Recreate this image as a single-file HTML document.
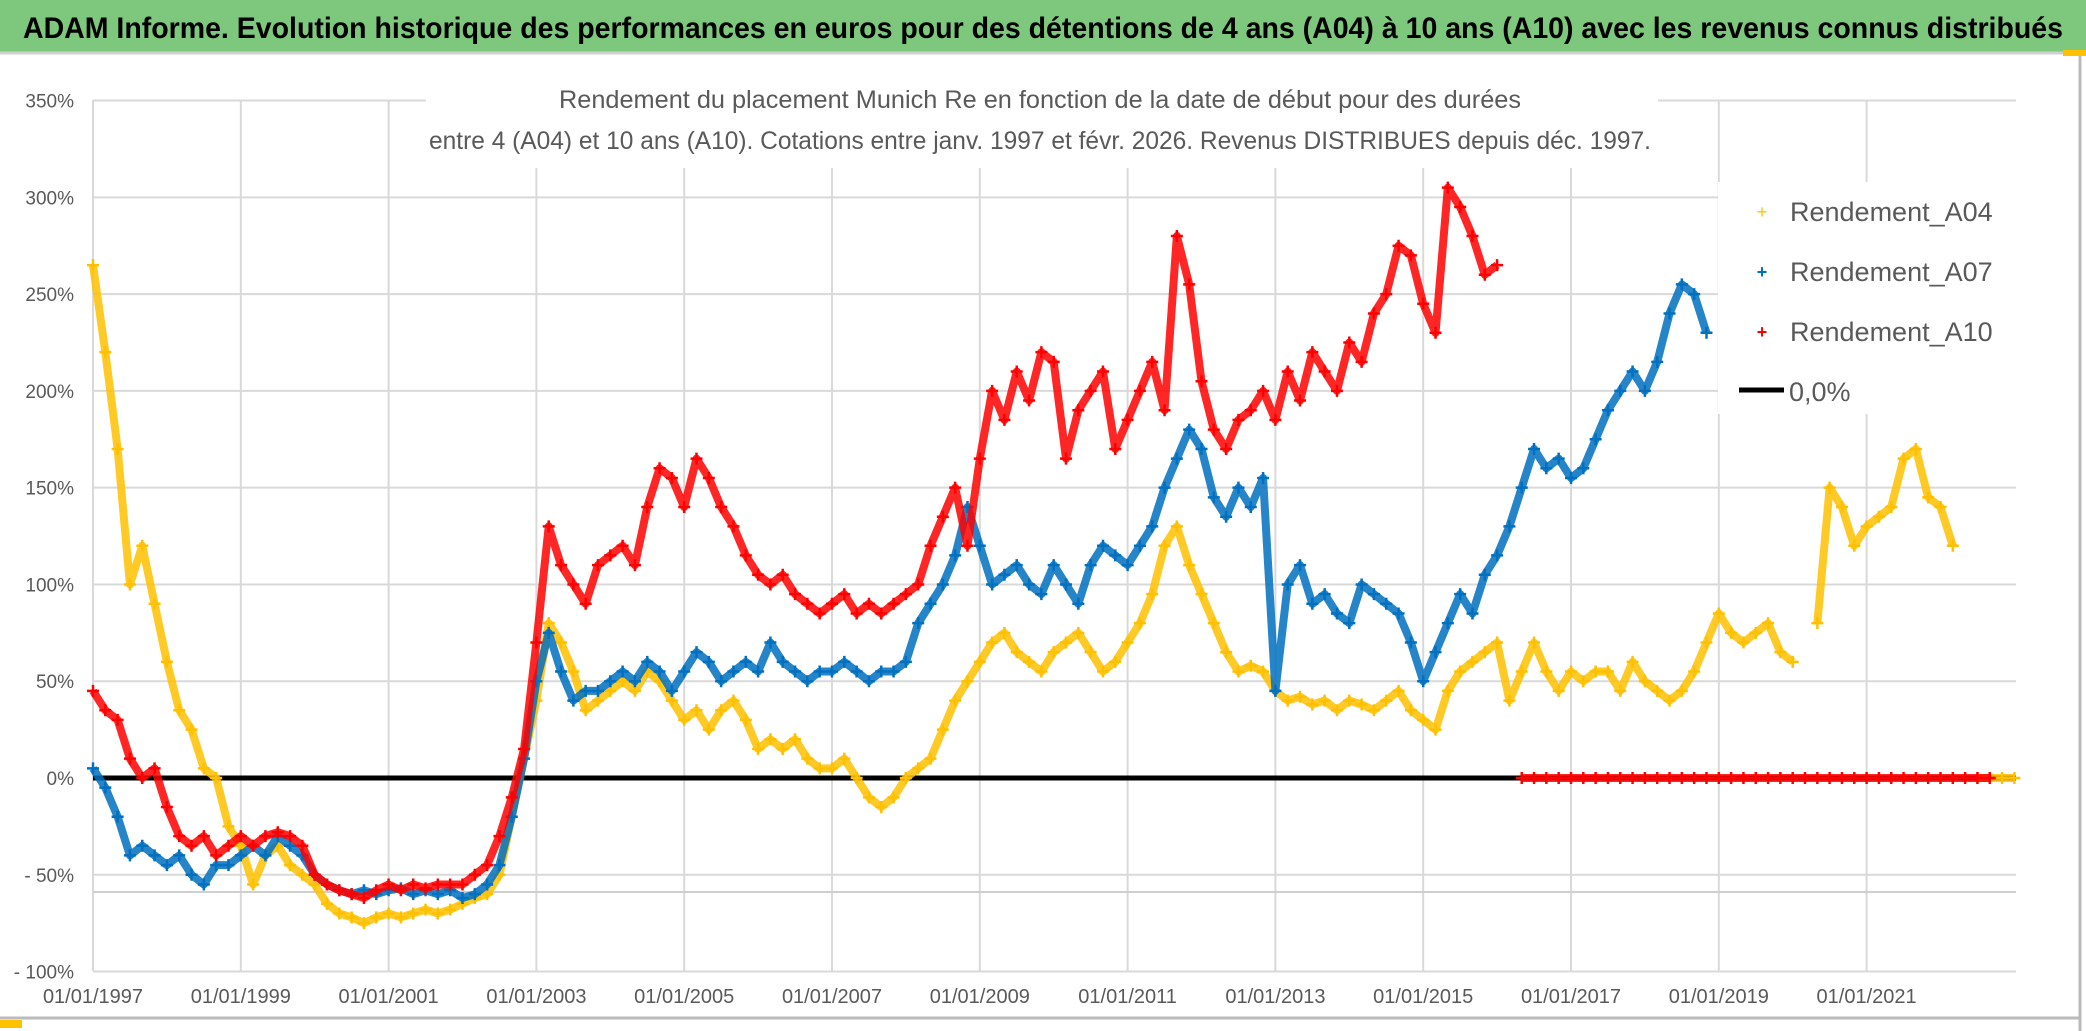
<!DOCTYPE html>
<html><head><meta charset="utf-8"><style>
body{margin:0;background:#fff;width:2086px;height:1031px;overflow:hidden;font-family:"Liberation Sans",sans-serif;}
svg{display:block}
</style></head><body>
<svg id="chart" width="2086" height="1031" viewBox="0 0 2086 1031" xmlns="http://www.w3.org/2000/svg">
<rect x="0" y="0" width="2086" height="1031" fill="#fff"/>
<rect x="0" y="0" width="2086" height="52" fill="#7dc87c"/>
<line x1="0" y1="53" x2="2086" y2="53" stroke="#d0d0d0" stroke-width="3"/>
<text x="1043" y="38" text-anchor="middle" font-size="30" font-weight="bold" fill="#000" textLength="2040" lengthAdjust="spacingAndGlyphs">ADAM Informe. Evolution historique des performances en euros pour des détentions de 4 ans (A04) à 10 ans (A10) avec les revenus connus distribués</text>
<line x1="2080" y1="54" x2="2080" y2="1031" stroke="#bbb" stroke-width="3"/>
<rect x="2063" y="50" width="23" height="6" fill="#ffc000"/>
<line x1="0" y1="1018" x2="2080" y2="1018" stroke="#bbb" stroke-width="3"/>
<rect x="0" y="1020" width="22" height="8" fill="#ffc000"/>
<g id="grid"></g>
<g id="ylabels"></g>
<g id="xlabels"></g>
<line x1="93" y1="892" x2="2016" y2="892" stroke="#cfcfcf" stroke-width="2"/>
<g id="series"></g>
<rect x="426" y="80" width="1232" height="88" fill="#fff"/>
<text x="1040" y="108" text-anchor="middle" font-size="25" fill="#595959" textLength="962" lengthAdjust="spacingAndGlyphs">Rendement du placement Munich Re en fonction de la date de début pour des durées</text>
<text x="1040" y="149" text-anchor="middle" font-size="25" fill="#595959" textLength="1222" lengthAdjust="spacingAndGlyphs">entre 4 (A04) et 10 ans (A10). Cotations entre janv. 1997 et févr. 2026. Revenus DISTRIBUES depuis déc. 1997.</text>
<g>
<rect x="1718" y="182" width="298" height="232" fill="#fff"/>
<g><text x="1762" y="218" text-anchor="middle" font-size="18" fill="#ffc000">+</text><text x="1790" y="221" font-size="27" fill="#595959">Rendement_A04</text></g>
<g><text x="1762" y="278" text-anchor="middle" font-size="18" fill="#0070c0" font-weight="bold">+</text><text x="1790" y="281" font-size="27" fill="#595959">Rendement_A07</text></g>
<g><text x="1762" y="338" text-anchor="middle" font-size="18" fill="#ff0000" font-weight="bold">+</text><text x="1790" y="341" font-size="27" fill="#595959">Rendement_A10</text></g>
<g><line x1="1739" y1="390" x2="1784" y2="390" stroke="#000" stroke-width="5"/><text x="1789" y="401" font-size="27" fill="#595959">0,0%</text></g>
</g>
</svg>
<script>
const yTicks=[-100,-50,0,50,100,150,200,250,300,350];
const yTickLabels=["- 100%","- 50%","0%","50%","100%","150%","200%","250%","300%","350%"];
const xTicks=[1997,1999,2001,2003,2005,2007,2009,2011,2013,2015,2017,2019,2021];
const xTickLabels=["01/01/1997","01/01/1999","01/01/2001","01/01/2003","01/01/2005","01/01/2007","01/01/2009","01/01/2011","01/01/2013","01/01/2015","01/01/2017","01/01/2019","01/01/2021"];
const startYear=1997;
const stepYears=1/6;
const a04=[265,220,170,100,120,90,60,35,25,5,0,-25,-35,-55,-40,-35,-45,-50,-55,-65,-70,-72,-75,-72,-70,-72,-70,-68,-70,-68,-65,-62,-60,-50,-20,10,40,80,70,55,35,40,45,50,45,55,50,40,30,35,25,35,40,30,15,20,15,20,10,5,5,10,0,-10,-15,-10,0,5,10,25,40,50,60,70,75,65,60,55,65,70,75,65,55,60,70,80,95,120,130,110,95,80,65,55,58,55,45,40,42,38,40,35,40,38,35,40,45,35,30,25,45,55,60,65,70,40,55,70,55,45,55,50,55,55,45,60,50,45,40,45,55,70,85,75,70,75,80,65,60,null,80,150,140,120,130,135,140,165,170,145,140,120,null,0,0,0,0];
const a07=[5,-5,-20,-40,-35,-40,-45,-40,-50,-55,-45,-45,-40,-35,-40,-30,-35,-40,-50,-55,-58,-60,-58,-60,-58,-57,-60,-58,-60,-58,-62,-60,-55,-45,-20,10,50,75,55,40,45,45,50,55,50,60,55,45,55,65,60,50,55,60,55,70,60,55,50,55,55,60,55,50,55,55,60,80,90,100,115,140,120,100,105,110,100,95,110,100,90,110,120,115,110,120,130,150,165,180,170,145,135,150,140,155,45,100,110,90,95,85,80,100,95,90,85,70,50,65,80,95,85,105,115,130,150,170,160,165,155,160,175,190,200,210,200,215,240,255,250,230];
const a10=[45,35,30,10,0,5,-15,-30,-35,-30,-40,-35,-30,-35,-30,-28,-30,-35,-50,-55,-58,-60,-62,-58,-55,-58,-55,-57,-55,-55,-55,-50,-45,-30,-10,15,70,130,110,100,90,110,115,120,110,140,160,155,140,165,155,140,130,115,105,100,105,95,90,85,90,95,85,90,85,90,95,100,120,135,150,120,165,200,185,210,195,220,215,165,190,200,210,170,185,200,215,190,280,255,205,180,170,185,190,200,185,210,195,220,210,200,225,215,240,250,275,270,245,230,305,295,280,260,265,null,0,0,0,0,0,0,0,0,0,0,0,0,0,0,0,0,0,0,0,0,0,0,0,0,0,0,0,0,0,0,0,0,0,0,0,0,0,0,0];

const NS="http://www.w3.org/2000/svg";
const X0=93,PXY=73.9,Y0=778,PXP=1.9356,PL=93,PR=2016,PT=100,PB=971;
function xs(t){return X0+(t-startYear)*PXY;}
function ys(v){return Y0-v*PXP;}
const grid=document.getElementById('grid');
yTicks.forEach((v,i)=>{
  const l=document.createElementNS(NS,'line');
  
  
  l.setAttribute('x1',PL);l.setAttribute('x2',PR);l.setAttribute('y1',ys(v));l.setAttribute('y2',ys(v));
  l.setAttribute('stroke','#d9d9d9');l.setAttribute('stroke-width','2');
  grid.appendChild(l);
  const t=document.createElementNS(NS,'text');
  
  
  t.setAttribute('x',74);t.setAttribute('y',ys(v)+7);t.setAttribute('text-anchor','end');
  t.setAttribute('font-size','19');t.setAttribute('fill','#595959');
  t.textContent=yTickLabels[i];
  document.getElementById('ylabels').appendChild(t);
});
xTicks.forEach((yr,i)=>{
  const l=document.createElementNS(NS,'line');
  
  
  l.setAttribute('x1',xs(yr));l.setAttribute('x2',xs(yr));l.setAttribute('y1',PT);l.setAttribute('y2',PB);
  l.setAttribute('stroke','#d9d9d9');l.setAttribute('stroke-width','2');
  grid.appendChild(l);
  const t=document.createElementNS(NS,'text');
  
  
  t.setAttribute('x',xs(yr));t.setAttribute('y',1003);t.setAttribute('text-anchor','middle');
  t.setAttribute('font-size','20');t.setAttribute('fill','#595959');
  t.textContent=xTickLabels[i];
  document.getElementById('xlabels').appendChild(t);
});
const series=document.getElementById('series');
const zl=document.createElementNS(NS,'line');


zl.setAttribute('x1',PL);zl.setAttribute('x2',PR);zl.setAttribute('y1',ys(0));zl.setAttribute('y2',ys(0));
zl.setAttribute('stroke','#000');zl.setAttribute('stroke-width','5');
series.appendChild(zl);
function draw(vals,color,name){
  const g=document.createElementNS(NS,'g');
  
  
  let segs=[],cur=[];
  vals.forEach((v,i)=>{
    if(v===null){if(cur.length)segs.push(cur);cur=[];return;}
    cur.push([xs(startYear+i*stepYears),ys(v)]);
  });
  if(cur.length)segs.push(cur);
  segs.forEach(s=>{
    const p=document.createElementNS(NS,'polyline');
    
    
    p.setAttribute('points',s.map(q=>q.join(',')).join(' '));
    p.setAttribute('fill','none');p.setAttribute('stroke',color);p.setAttribute('stroke-width','8');
    p.setAttribute('stroke-linejoin','round');p.setAttribute('opacity','0.85');
    g.appendChild(p);
  });
  vals.forEach((v,i)=>{
    if(v===null)return;
    const x=xs(startYear+i*stepYears),y=ys(v);
    const m=document.createElementNS(NS,'path');
    
    
    m.setAttribute('d',`M${x-6},${y}H${x+6}M${x},${y-6}V${y+6}`);
    m.setAttribute('stroke',color);m.setAttribute('stroke-width','2.5');
    g.appendChild(m);
  });
  series.appendChild(g);
}
draw(a04,'#ffc000','series-a04');
draw(a07,'#0070c0','series-a07');
draw(a10,'#ff0000','series-a10');
</script>
</body></html>
